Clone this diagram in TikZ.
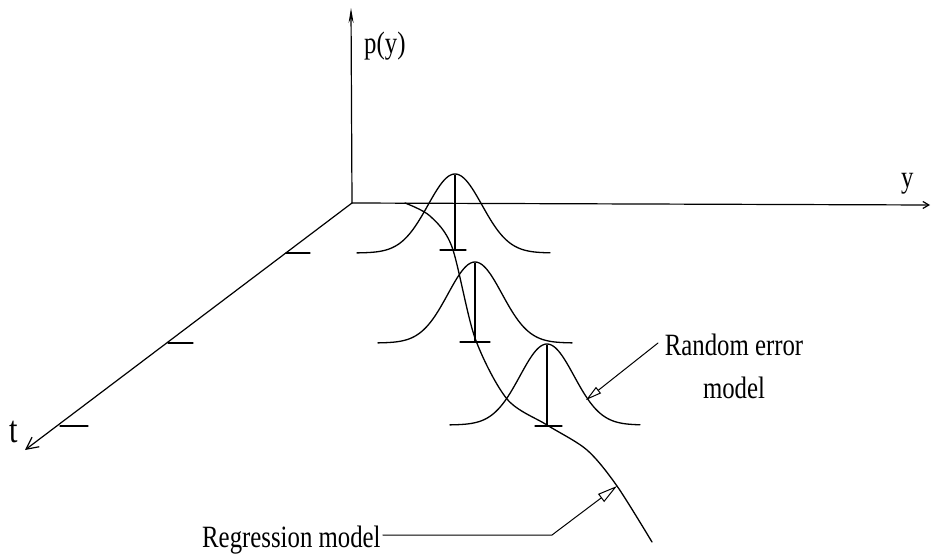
\documentclass[tikz,border=0pt]{standalone}
\usepackage{fontspec}
\setmainfont{Liberation Serif}[FakeStretch=0.8]
\usetikzlibrary{arrows.meta,calc}
\begin{document}
\begin{tikzpicture}[x=1pt,y=-1pt, line cap=round, line join=round,
  curve/.style={line width=1.3pt},
  axis/.style={line width=1.2pt},
  lab/.style={font=\fontsize{31}{43}\selectfont, inner sep=0pt},
  openhead/.style={-{Triangle[open,length=#1,width=0.5*#1,line width=1pt]}}]
\useasboundingbox (0,0) rectangle (931,559);
% axes
\coordinate (O) at (352,203);
\coordinate (ptop) at (351,8);
\coordinate (yend) at (930,205);
\coordinate (tend) at (25,450);
\draw[axis,-{Stealth[length=15pt,width=5pt]}] (O) -- (ptop);
\draw[axis,-{Straight Barb[length=6pt,width=7pt]}] (O) -- (yend);
\draw[axis,-{Straight Barb[length=12pt,width=12pt]}] (O) -- (tend);
% ticks on t axis
\draw[axis] (286,253) -- (310,253);
\draw[axis] (168,343) -- (193,343);
\draw[axis] (60,426) -- (88,426);
% labels
\node[lab, anchor=base west] (py) at (364,54) {p(y)};
\node[lab, anchor=base west] (ylab) at (901,187) {y};
\node[font=\fontsize{38}{40}\selectfont, inner sep=0pt, anchor=base west] (tlab) at (9,442) {t};
% random error densities
\draw[curve] plot[domain=-98:95, samples=120, smooth] ({455+\x},{253-79*exp(-((\x)*(\x))/(2*27*27))});
\draw[curve] plot[domain=-97:97, samples=120, smooth] ({475+\x},{343-81*exp(-((\x)*(\x))/(2*27*27))});
\draw[curve] plot[domain=-97:93, samples=120, smooth] ({547+\x},{425-81*exp(-((\x)*(\x))/(2*27*27))});
% vertical lines and ticks
\draw[curve] (455,175) -- (455,250);
\draw[curve] (440,250) -- (466,250);
\draw[curve] (475,263) -- (475,342);
\draw[curve] (460,342) -- (490,342);
\draw[curve] (547,345) -- (547,426);
\draw[curve] (535,426) -- (562,426);
% regression curve
\draw[curve] plot[smooth, tension=0.5] coordinates {(405,203) (430,216) (452,247) (475,338) (507,399) (547,425) (587,450) (617,486) (652,542)};
% labels with arrows
\node[lab, anchor=base west] (rm) at (202,547) {Regression model};
\coordinate (rmk) at (552,535);
\coordinate (rmtip) at (617,486);
\draw[curve, line width=1pt, openhead=20pt] ($(rm.base east)+(2,-12)$) -- (rmk) -- (rmtip);
\node[lab, anchor=north, align=center] (re) at (734,334) {Random error\\model};
\coordinate (reA) at (658,343);
\coordinate (retip) at (586,400);
\draw[curve, line width=1pt, openhead=16pt] (reA) -- (retip);
\end{tikzpicture}
\end{document}
